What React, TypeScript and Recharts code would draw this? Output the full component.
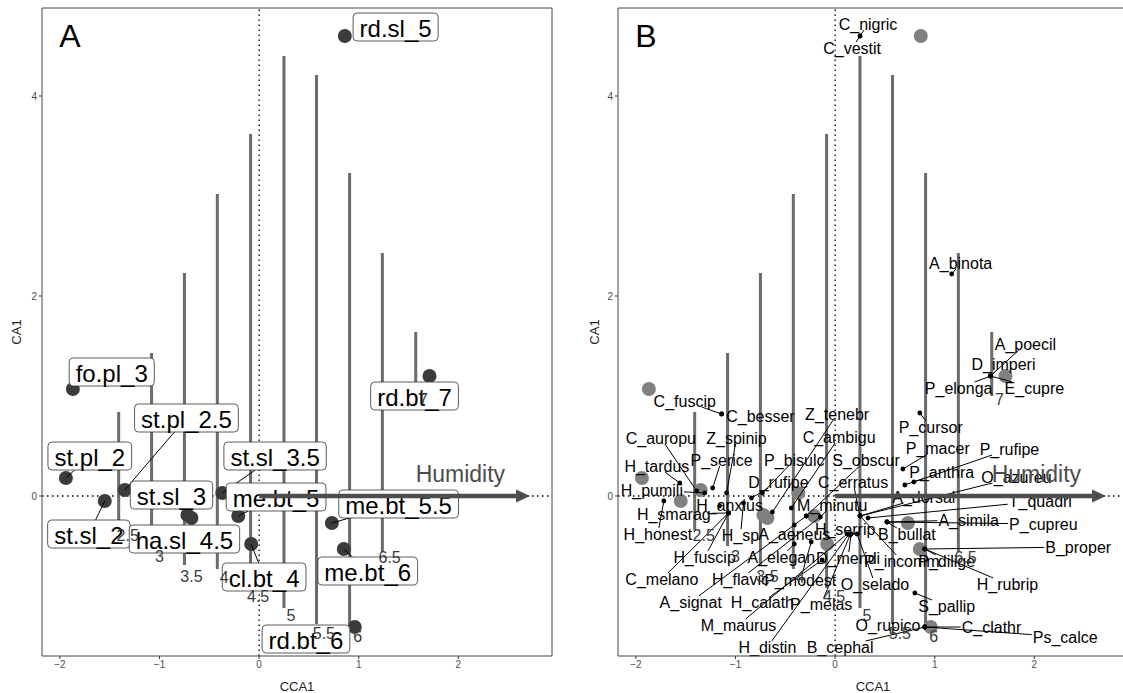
import React from "react";
import { Scatter, ScatterChart, XAxis, YAxis } from "recharts";

// axes
const X_DOMAIN: [number, number] = [-2.18, 2.94];
const Y_DOMAIN: [number, number] = [-1.6, 4.88];
const X_TICKS = [-2, -1, 0, 1, 2];
const Y_TICKS = [0, 2, 4];

// humidity isolines (fitted surface levels)
const isoLevels = ["2.5", "3", "3.5", "4", "4.5", "5", "5.5", "6", "6.5", "7"];
const isoX = [-1.41, -1.08, -0.75, -0.42, -0.086, 0.249, 0.576, 0.908, 1.237, 1.572];
const isoTop = [0.84, 1.43, 2.23, 3.02, 3.62, 4.4, 4.21, 3.23, 2.43, 1.64];
const isoBottom = [-0.34, -0.5, -0.69, -0.73, -0.92, -1.12, -1.28, -1.33, -0.56, 1.0];
const isoLabelX = [-1.32, -1.0, -0.68, -0.35, -0.01, 0.32, 0.65, 0.99, 1.31, 1.65];
const isoLabelY = [-0.39, -0.6, -0.8, -0.81, -1.0, -1.19, -1.37, -1.4, -0.61, 0.97];

// humidity biplot arrow
const humidityEnd = 2.72;
const humidityLabel = { x: 2.02, y: 0.22, text: "Humidity" };

// sites
const siteNames = ["rd.sl_5", "fo.pl_3", "rd.bt_7", "st.pl_2", "st.pl_2.5", "st.sl_2", "st.sl_3", "ha.sl_4.5", "st.sl_3.5", "me.bt_5", "cl.bt_4", "me.bt_5.5", "me.bt_6", "rd.bt_6"];
const siteX = [0.86, -1.87, 1.71, -1.94, -1.35, -1.55, -0.72, -0.68, -0.37, -0.21, -0.08, 0.73, 0.85, 0.96];
const siteY = [4.6, 1.07, 1.2, 0.18, 0.06, -0.05, -0.19, -0.22, 0.03, -0.2, -0.48, -0.27, -0.53, -1.31];
const siteLabelX = [1.37, -1.48, 1.56, -1.7, -0.73, -1.71, -0.88, -0.75, 0.16, 0.17, 0.05, 1.4, 1.09, 0.47];
const siteLabelY = [4.69, 1.24, 1.0, 0.4, 0.78, -0.38, 0.01, -0.43, 0.4, -0.01, -0.81, -0.08, -0.75, -1.43];

// species
const speciesNames = ["C_nigric", "C_vestit", "A_binota", "A_poecil", "D_imperi", "P_elonga", "E_cupre", "C_fuscip", "C_besser", "Z_tenebr", "C_auropu", "Z_spinip", "C_ambigu", "H_tardus", "P_serice", "P_bisulc", "S_obscur", "D_rufipe", "C_erratus", "H_pumili", "H_anxius", "M_minutu", "H_smarag", "H_honest", "H_sp", "A_aeneus", "H_serrip", "B_bullat", "A_simila", "P_cupreu", "T_quadri", "O_azureu", "A_dorsal", "P_rufipe", "P_anthra", "P_macer", "P_cursor", "B_proper", "P_dilige", "P_incomm", "H_rubrip", "D_meridi", "O_selado", "S_pallip", "O_rupico", "C_clathr", "Ps_calce", "B_cephal", "H_distin", "M_maurus", "P_melas", "H_calath", "A_signat", "H_flavic", "P_modest", "C_melano", "H_fuscip", "A_elegan"];
const speciesX = [0.25, 0.25, 1.17, 1.56, 1.56, 1.56, 1.56, -1.14, -1.14, -0.63, -1.39, -1.09, -0.44, -1.56, -1.23, -0.73, -0.29, -0.84, 0.25, -1.31, -1.16, -0.15, -1.07, -1.72, -0.92, -0.41, 0.16, 0.52, 0.52, 0.52, 0.33, 0.25, 0.25, 0.79, 0.7, 0.68, 0.85, 0.9, 0.9, 0.25, 0.9, 0.16, 0.22, 0.8, 0.9, 0.9, 0.9, 0.9, 0.14, 0.12, 0.15, -0.13, -0.29, -0.15, -0.24, -1.07, -1.07, -0.41];
const speciesY = [4.6, 4.6, 2.22, 1.2, 1.2, 1.2, 1.2, 0.82, 0.82, -0.16, 0.05, 0.03, -0.12, 0.13, 0.08, 0.03, -0.2, -0.02, -0.2, 0.03, -0.1, -0.21, -0.17, -0.05, -0.07, -0.29, -0.38, -0.26, -0.26, -0.26, -0.22, -0.2, -0.2, 0.14, 0.11, 0.27, 0.83, -0.53, -0.53, -0.2, -0.53, -0.38, -0.38, -0.97, -1.31, -1.31, -1.31, -1.31, -0.38, -0.38, -0.39, -0.64, -0.2, -0.21, -0.46, -0.17, -0.17, -0.48];
const speciesLabelX = [0.33, 0.17, 1.26, 1.91, 1.69, 1.24, 2.0, -1.51, -0.75, 0.02, -1.75, -0.99, 0.04, -1.79, -1.14, -0.41, 0.31, -0.57, 0.18, -1.84, -1.06, -0.03, -1.62, -1.78, -0.95, -0.41, 0.1, 0.72, 1.34, 2.09, 2.06, 1.82, 0.89, 1.75, 1.07, 1.03, 0.96, 2.44, 1.12, 0.67, 1.73, 0.13, 0.4, 1.12, 0.53, 1.57, 2.31, 0.05, -0.68, -0.97, -0.14, -0.73, -1.45, -0.95, -0.35, -1.74, -1.31, -0.54];
const speciesLabelY = [4.72, 4.48, 2.33, 1.52, 1.32, 1.08, 1.08, 0.95, 0.8, 0.82, 0.58, 0.58, 0.59, 0.3, 0.36, 0.36, 0.36, 0.14, 0.14, 0.06, -0.09, -0.09, -0.18, -0.38, -0.39, -0.38, -0.33, -0.38, -0.24, -0.28, -0.05, 0.19, -0.01, 0.47, 0.24, 0.48, 0.69, -0.51, -0.65, -0.65, -0.88, -0.62, -0.88, -1.1, -1.29, -1.31, -1.41, -1.51, -1.51, -1.29, -1.08, -1.06, -1.06, -0.83, -0.84, -0.83, -0.61, -0.61];

const FONT = '"Liberation Sans", Arial, Helvetica, sans-serif';

let ctx: CanvasRenderingContext2D | null = null;
function textWidth(t: string, size: number) {
  if (!ctx) ctx = document.createElement("canvas").getContext("2d");
  if (!ctx) return t.length * size * 0.55;
  ctx.font = `${size}px ${FONT}`;
  return ctx.measureText(t).width;
}

const noShape = () => <g />;

const fmtTick = (v: number) => (v < 0 ? `\u2212${-v}` : `${v}`);

// leader segment from point to the edge of its label box
function leader(text: string, size: number, padX: number, padY: number, minLen: number) {
  return (p: any) => {
    const pts = p.points;
    if (!pts || pts.length < 2) return <g />;
    const P = pts[0];
    const L = pts[1];
    const hw = textWidth(text, size) / 2 + padX;
    const hh = size * 0.5 + padY;
    const dx = P.x - L.x;
    const dy = P.y - L.y;
    const t = Math.min(dx ? hw / Math.abs(dx) : Infinity, dy ? hh / Math.abs(dy) : Infinity);
    if (t >= 1) return <g />;
    const sx = L.x + t * dx;
    const sy = L.y + t * dy;
    if (Math.hypot(P.x - sx, P.y - sy) < minLen) return <g />;
    return <line x1={sx} y1={sy} x2={P.x} y2={P.y} stroke="#000" strokeWidth={1} />;
  };
}

const arrowLine = (p: any) => {
  const [a, b] = p.points;
  const head = 14;
  const half = 6.5;
  return (
    <g>
      <line x1={a.x} y1={a.y} x2={b.x - head + 1} y2={b.y} stroke="#4d4d4d" strokeWidth={4.5} />
      <polygon points={`${b.x},${b.y} ${b.x - head},${b.y - half} ${b.x - head},${b.y + half}`} fill="#4d4d4d" />
    </g>
  );
};

const textShape = (size: number, fill: string) => (props: any) => (
  <text x={props.cx} y={props.cy} fontSize={size} fill={fill} textAnchor="middle" dominantBaseline="central">
    {props.payload.text}
  </text>
);

const boxShape = (props: any) => {
  const t = props.payload.text;
  const w = textWidth(t, 24) + 13;
  const h = 28;
  return (
    <g>
      <rect x={props.cx - w / 2} y={props.cy - h / 2} width={w} height={h} rx={4} fill="#fff" stroke="#333" strokeWidth={0.8} />
      <text x={props.cx} y={props.cy + 1} fontSize={24} fill="#000" textAnchor="middle" dominantBaseline="central">
        {t}
      </text>
    </g>
  );
};

const dotShape = (r: number, fill: string) => (props: any) => <circle cx={props.cx} cy={props.cy} r={r} fill={fill} />;

function Panel({ kind }: { kind: "A" | "B" }) {
  const isA = kind === "A";
  const sites = siteNames.map((n, i) => ({ x: siteX[i], y: siteY[i], text: n }));
  const siteLabels = siteNames.map((n, i) => ({ x: siteLabelX[i], y: siteLabelY[i], text: n }));
  const species = speciesNames.map((n, i) => ({ x: speciesX[i], y: speciesY[i], text: n }));
  const speciesLabels = speciesNames.map((n, i) => ({ x: speciesLabelX[i], y: speciesLabelY[i], text: n }));
  const isoLabels = isoLevels.map((l, i) => ({ x: isoLabelX[i], y: isoLabelY[i], text: l }));
  const [x0, x1] = X_DOMAIN;
  const [y0, y1] = Y_DOMAIN;

  return (
    <ScatterChart width={560} height={693} margin={{ top: 8, right: 8, bottom: 7, left: 12 }}>
      <XAxis
        type="number"
        dataKey="x"
        domain={X_DOMAIN}
        ticks={X_TICKS}
        tickFormatter={fmtTick}
        axisLine={false}
        tickLine={{ stroke: "#333" }}
        tickSize={3}
        height={30}
        tick={{ fontSize: 10, fill: "#4d4d4d" }}
      />
      <YAxis
        type="number"
        dataKey="y"
        domain={Y_DOMAIN}
        ticks={Y_TICKS}
        tickFormatter={fmtTick}
        axisLine={false}
        tickLine={{ stroke: "#333" }}
        tickSize={3}
        width={30}
        tick={{ fontSize: 10, fill: "#4d4d4d" }}
      />

      {/* zero reference lines */}
      <Scatter data={[{ x: x0, y: 0 }, { x: x1, y: 0 }]} line={{ stroke: "#000", strokeWidth: 1.3, strokeDasharray: "1.5 3.5" }} shape={noShape} isAnimationActive={false} />
      <Scatter data={[{ x: 0, y: y0 }, { x: 0, y: y1 }]} line={{ stroke: "#000", strokeWidth: 1.3, strokeDasharray: "1.5 3.5" }} shape={noShape} isAnimationActive={false} />

      {/* isolines */}
      {isoX.map((x, i) => (
        <Scatter
          key={`iso${i}`}
          data={[{ x, y: isoBottom[i] }, { x, y: isoTop[i] }]}
          line={{ stroke: "#6b6b6b", strokeWidth: 3 }}
          shape={noShape}
          isAnimationActive={false}
        />
      ))}

      {/* site points */}
      <Scatter data={sites} shape={dotShape(7, isA ? "#3b3b3b" : "#808080")} isAnimationActive={false} />

      {/* leaders */}
      {isA
        ? sites.map((s, i) => (
            <Scatter
              key={`sl${i}`}
              data={[s, siteLabels[i]]}
              line={leader(s.text, 24, 6.5, 2, 9)}
              shape={noShape}
              isAnimationActive={false}
            />
          ))
        : species.map((s, i) => (
            <Scatter
              key={`pl${i}`}
              data={[s, speciesLabels[i]]}
              line={leader(s.text, 16, 1, -2, 6)}
              shape={noShape}
              isAnimationActive={false}
            />
          ))}

      {!isA && <Scatter data={species} shape={dotShape(2.4, "#000")} isAnimationActive={false} />}

      {/* labels */}
      {isA ? (
        <Scatter data={siteLabels} shape={boxShape} isAnimationActive={false} />
      ) : (
        <Scatter data={speciesLabels} shape={textShape(16, "#000")} isAnimationActive={false} />
      )}

      <Scatter data={isoLabels} shape={textShape(16, "#3a3a3a")} isAnimationActive={false} />

      {/* humidity arrow */}
      <Scatter data={[{ x: 0, y: 0 }, { x: humidityEnd, y: 0 }]} line={arrowLine} shape={noShape} isAnimationActive={false} />
      <Scatter data={[humidityLabel]} shape={textShape(23, "#4d4d4d")} isAnimationActive={false} />

      <Scatter data={[{ x: -1.9, y: 4.6, text: kind }]} shape={textShape(32, "#000")} isAnimationActive={false} />

      {/* panel border */}
      <Scatter
        data={[{ x: x0, y: y0 }, { x: x0, y: y1 }, { x: x1, y: y1 }, { x: x1, y: y0 }, { x: x0, y: y0 }]}
        line={{ stroke: "#444", strokeWidth: 1 }}
        shape={noShape}
        isAnimationActive={false}
      />
    </ScatterChart>
  );
}

const titleStyle: React.CSSProperties = { position: "absolute", fontSize: 13, color: "#222", whiteSpace: "nowrap" };

export default function App() {
  return (
    <div
      style={{
        position: "fixed",
        left: 0,
        top: 0,
        width: 1123,
        height: 693,
        overflow: "hidden",
        background: "#fff",
        fontFamily: FONT,
      }}
    >
      <div style={{ position: "absolute", left: 0, top: 0 }}>
        <Panel kind="A" />
      </div>
      <div style={{ position: "absolute", left: 576, top: 0 }}>
        <Panel kind="B" />
      </div>
      <div style={{ ...titleStyle, left: 297, top: 686, transform: "translate(-50%, -50%)" }}>CCA1</div>
      <div style={{ ...titleStyle, left: 873, top: 686, transform: "translate(-50%, -50%)" }}>CCA1</div>
      <div style={{ ...titleStyle, left: 16, top: 332, transform: "translate(-50%, -50%) rotate(-90deg)" }}>CA1</div>
      <div style={{ ...titleStyle, left: 594, top: 332, transform: "translate(-50%, -50%) rotate(-90deg)" }}>CA1</div>
    </div>
  );
}
